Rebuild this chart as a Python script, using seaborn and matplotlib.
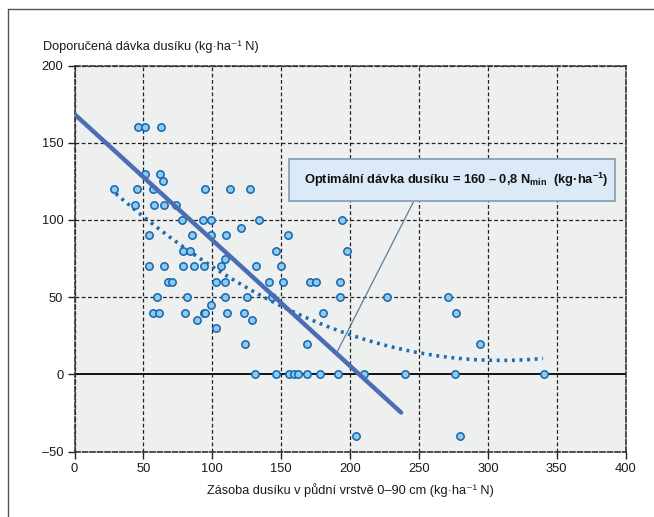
import numpy as np
import pandas as pd
import matplotlib
matplotlib.use("Agg")
import matplotlib.pyplot as plt
from matplotlib import font_manager
from matplotlib.lines import Line2D
from matplotlib.patches import FancyBboxPatch
import seaborn as sns

# ---------------- data ----------------
zasoba = [46, 51, 63,
          51, 62,
          64,
          29, 45, 57, 95, 113, 127,
          44, 58, 65, 74,
          78, 93, 99, 134, 194,
          121,
          54, 85, 99, 110, 155,
          79, 84, 146, 198,
          109,
          54, 65, 79, 87, 94, 106, 132, 150,
          68, 71, 103, 109, 141, 151, 171, 175, 193,
          60, 82, 109, 125, 143, 193, 227, 271,
          99,
          57, 61, 80, 94, 95, 111, 123, 180, 277,
          89, 129,
          103,
          124, 169, 294,
          131, 146, 156, 159, 162, 169, 178, 191, 210, 240, 276, 341,
          204, 280]
davka = [160, 160, 160,
         130, 130,
         125,
         120, 120, 120, 120, 120, 120,
         110, 110, 110, 110,
         100, 100, 100, 100, 100,
         95,
         90, 90, 90, 90, 90,
         80, 80, 80, 80,
         75,
         70, 70, 70, 70, 70, 70, 70, 70,
         60, 60, 60, 60, 60, 60, 60, 60, 60,
         50, 50, 50, 50, 50, 50, 50, 50,
         45,
         40, 40, 40, 40, 40, 40, 40, 40, 40,
         35, 35,
         30,
         20, 20, 20,
         0, 0, 0, 0, 0, 0, 0, 0, 0, 0, 0, 0,
         -40, -40]

# solid recommendation line (as drawn): intercept, slope, x-range
line_coef = [168.5, -0.815]
line_range = [0, 237]
# dotted quadratic trend: a + b*x + c*x^2, x-range
curve_coef = [141.4, -0.854, 0.001378]
curve_range = [30, 340]
# leader line of the annotation (data coords)
leader_x = [190.7, 246.4]
leader_y = [14.8, 112.5]

x_ticks = [0, 50, 100, 150, 200, 250, 300, 350, 400]
y_ticks = [-50, 0, 50, 100, 150, 200]

# ---------------- fonts ----------------
names = {f.name for f in font_manager.fontManager.ttflist}
base = 'Liberation Sans Narrow' if 'Liberation Sans Narrow' in names else 'Liberation Sans'
fam = [base, 'DejaVu Sans']

sns.set_theme(style="white")
plt.rcParams['font.family'] = fam
plt.rcParams['mathtext.fontset'] = 'custom'
plt.rcParams['mathtext.rm'] = base
plt.rcParams['mathtext.bf'] = base + ':bold'
plt.rcParams['mathtext.it'] = base

fig = plt.figure(figsize=(6.54, 5.17), dpi=100)
fig.patch.set_facecolor('white')
ax = fig.add_axes([74.5/654, 1-451.7/517, (625.7-74.5)/654, (451.7-65.5)/517])
ax.set_facecolor('#eef0f0')

ax.set_xlim(0, 400)
ax.set_ylim(-50, 200)
ax.set_xticks(x_ticks)
ax.set_yticks(y_ticks)
ax.set_xticklabels([str(v) for v in x_ticks])
ax.set_yticklabels([str(v).replace('-', '–') for v in y_ticks])
ax.tick_params(axis='both', direction='out', length=5, width=1, color='#222222',
               labelsize=9.3, labelcolor='#1a1a1a', pad=3, bottom=True, left=True)

for v in x_ticks:
    ax.axvline(v, color='#222222', lw=0.9, ls=(0, (3, 2)), zorder=1)
for v in y_ticks:
    if v == 0:
        ax.axhline(v, color='#111111', lw=1.4, zorder=1)
    else:
        ax.axhline(v, color='#222222', lw=0.9, ls=(0, (3, 2)), zorder=1)
for s in ax.spines.values():
    s.set_visible(True)
    s.set_color('#333333')
    s.set_linewidth(1.2)
    s.set_linestyle((0, (3, 1.5)))

# annotation leader line
ax.plot(leader_x, leader_y, color='#5b7f99', lw=0.9, zorder=2)

# curves
lx = np.array(line_range, dtype=float)
df_line = pd.DataFrame({'x': lx, 'y': line_coef[0] + line_coef[1]*lx})
cx = np.linspace(curve_range[0], curve_range[1], 200)
df_curve = pd.DataFrame({'x': cx, 'y': curve_coef[0] + curve_coef[1]*cx + curve_coef[2]*cx**2})

sns.lineplot(data=df_curve, x='x', y='y', ax=ax, color='#1f6cb0', lw=2.6,
             linestyle=(0, (0.8, 1.3)), zorder=3, sort=False)

df = pd.DataFrame({'x': zasoba, 'y': davka})
sns.scatterplot(data=df, x='x', y='y', ax=ax, s=28, color='#8ccaee',
                edgecolor='#1565b0', linewidth=1.1, zorder=4)

sns.lineplot(data=df_line, x='x', y='y', ax=ax, color='#4a6db3', lw=3.2,
             zorder=5, sort=False)

ax.set_xlabel('Zásoba dusíku v půdní vrstvě 0–90 cm (kg·ha⁻¹ N)', fontsize=9.2,
              color='#1a1a1a', labelpad=6)
ax.set_ylabel('')
fig.text(43/654, 1-47/517, 'Doporučená dávka dusíku (kg·ha⁻¹ N)', fontsize=9.2,
         color='#1a1a1a', ha='left', va='center')

# annotation box
bx0, bx1 = (289.3-74.5)/551.2, (615-74.5)/551.2
by0, by1 = (451.7-201)/386.2, (451.7-159.3)/386.2
box = FancyBboxPatch((bx0, by0), bx1-bx0, by1-by0, boxstyle='square,pad=0',
                     transform=ax.transAxes, facecolor='#dce9f6', edgecolor='#8aa2b6',
                     lw=1.3, zorder=6)
ax.add_patch(box)
ax.text((bx0+bx1)/2 + 0.008, (by0+by1)/2,
        r'Optimální dávka dusíku = 160 – 0,8 N$_{\mathbf{min}}$  (kg·ha$^{\mathbf{-1}}$)',
        transform=ax.transAxes, ha='center', va='center', fontsize=9.3,
        fontweight='bold', color='#111111', zorder=7)

# outer frame (left and top edges visible)
fig.add_artist(Line2D([8/654, 8/654], [0, 1-9/517], transform=fig.transFigure,
                      color='#555555', lw=1))
fig.add_artist(Line2D([8/654, 1], [1-9/517, 1-9/517], transform=fig.transFigure,
                      color='#555555', lw=1))

fig.savefig('out.png', dpi=100)
